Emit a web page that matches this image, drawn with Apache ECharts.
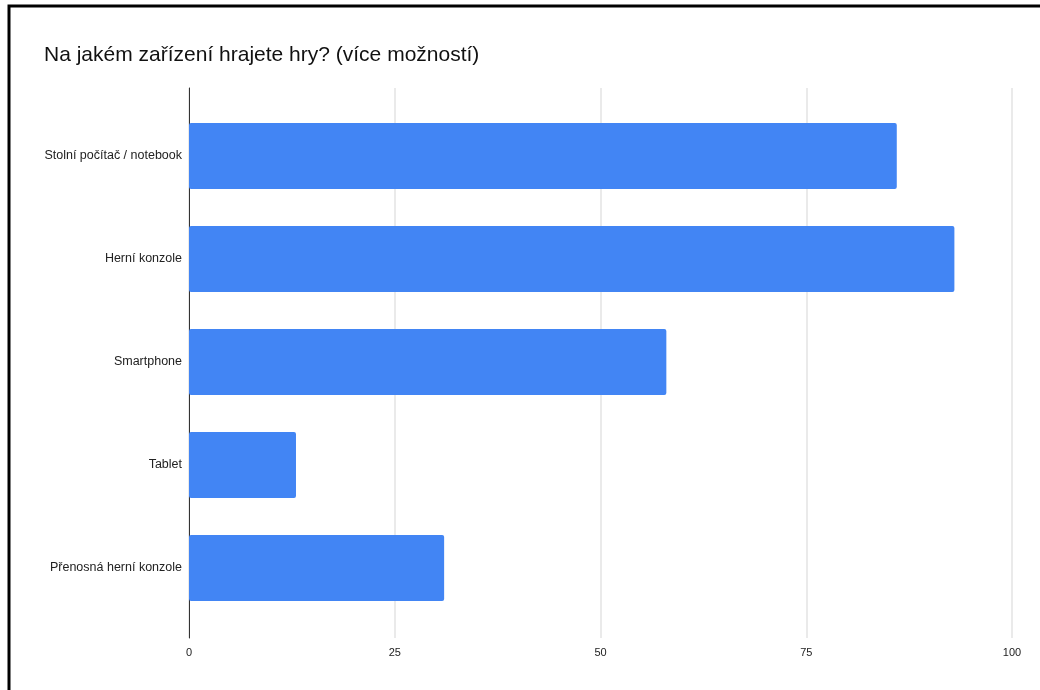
<!DOCTYPE html>
<html>
<head>
<meta charset="utf-8">
<script src="https://cdn.jsdelivr.net/npm/echarts@6/dist/echarts.min.js"></script>
<style>
html,body{margin:0;padding:0;background:#fff;}
#chart{width:1040px;height:690px;}
</style>
</head>
<body>
<div id="chart"></div>
<script>
const titleText = 'Na jakém zařízení hrajete hry? (více možností)';
const categories = ['Stolní počítač / notebook', 'Herní konzole', 'Smartphone', 'Tablet', 'Přenosná herní konzole'];
const values = [86, 93, 58, 13, 31];
const xTicks = [0, 25, 50, 75, 100];

const chart = echarts.init(document.getElementById('chart'), null, {renderer: 'canvas'});
const font = 'Liberation Sans, Arial, sans-serif';
chart.setOption({
  backgroundColor: '#ffffff',
  animation: false,
  title: {
    text: titleText,
    left: 39,
    top: 40,
    textStyle: {fontFamily: font, fontSize: 21, fontWeight: 'normal', color: '#111111'}
  },
  graphic: [{
    type: 'rect',
    shape: {x: 9, y: 6, width: 1200, height: 900},
    style: {fill: 'none', stroke: '#000000', lineWidth: 3},
    silent: true, z: 100
  }],
  grid: [
    {left: 189, right: 28, top: 88, bottom: 52},
    {left: 189, right: 28, top: 104.5, height: 515}
  ],
  xAxis: [
    {
      gridIndex: 0, type: 'value', min: xTicks[0], max: xTicks[xTicks.length - 1], interval: 25,
      axisLine: {show: false}, axisTick: {show: false},
      splitLine: {show: true, lineStyle: {color: '#e3e3e3', width: 1.5}},
      axisLabel: {fontFamily: font, fontSize: 11, color: '#222222', margin: 9}
    },
    {gridIndex: 1, type: 'value', min: 0, max: 100, show: false}
  ],
  yAxis: [
    {
      gridIndex: 0, type: 'value', min: 0, max: 1,
      axisLine: {show: true, lineStyle: {color: '#333333', width: 1}},
      axisTick: {show: false}, axisLabel: {show: false}, splitLine: {show: false}
    },
    {
      gridIndex: 1, type: 'category', inverse: true, data: categories,
      axisLine: {show: false}, axisTick: {show: false},
      axisLabel: {fontFamily: font, fontSize: 12.5, color: '#222222', margin: 7}
    }
  ],
  series: [{
    type: 'bar',
    xAxisIndex: 1, yAxisIndex: 1,
    data: values,
    barWidth: 66,
    itemStyle: {color: '#4285F4', borderRadius: 2}
  }]
});
</script>
</body>
</html>
